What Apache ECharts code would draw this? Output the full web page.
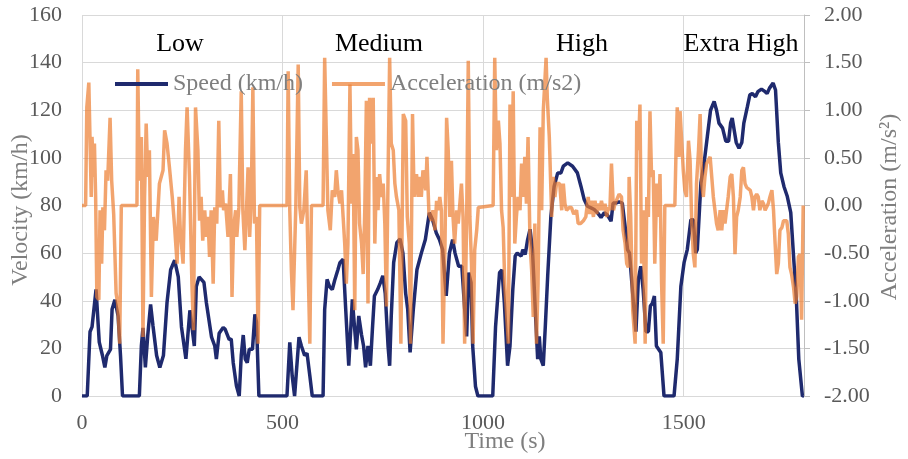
<!DOCTYPE html>
<html>
<head>
<meta charset="utf-8">
<script src="https://cdn.jsdelivr.net/npm/echarts@6/dist/echarts.min.js"></script>
<style>
  html, body { margin: 0; padding: 0; background: #fff; }
  #chart { width: 908px; height: 459px; }
</style>
</head>
<body>
<div id="chart"></div>
<script>
// WLTC speed trace: [time (s), speed (km/h)]
var speedPoints = [
  [0,0],[13,0],[20,27],[25,29],[35,44.8],[43,22.6],[51,17],[57,12],[62,17],[71,19.6],[75,36.4],[82,40.4],[90,33.6],[96,17],[101,0],
  [143,0],[148,21],[152,28.6],[158,12],[164,25.6],[171,38.5],[177,29.4],[186,17],[194,12],[203,17],[212,39.3],[221,53],[231,57],[240,50],
  [248,29],[259,15.6],[269,36],[280,21],[285,46],[292,50],[304,47.7],[310,39.3],[323,24.7],[331,21],[335,15.5],[342,26.4],[352,28.8],
  [357,28],[367,23.7],[372,24],[377,14],[385,4.3],[392,0],[397,17],[402,25.6],[407,15.5],[412,14],[417,19.6],[425,19.6],[431,34.3],
  [435,31],[441,0],[511,0],[518,22.5],[524,8.5],[530,0],[534,0],[541,24.7],[547,21],[555,17],[561,18],[568,8.5],[574,0],[601,0],
  [605,36.4],[611,49],[617,46],[624,44.7],[630,48.6],[638,53],[643,56],[651,57.4],[657,37.8],[665,12.7],[674,40.6],[679,29.8],[684,19.6],
  [690,33.6],[697,25.6],[702,21],[707,12],[713,21],[719,12.7],[724,28],[729,42],[737,44.7],[744,47.6],[750,50.5],[756,43],[763,21],
  [767,12.7],[771,33.6],[777,56],[785,64.4],[793,66],[800,60],[807,43],[812,36.4],[818,18.3],[826,36.4],[835,53],[846,60],[856,65.7],
  [866,77],[874,74],[883,68.6],[891,65.7],[899,61.5],[908,42],[916,60],[924,65.7],[930,60],[939,54.5],[947,54.5],[953,39],[959,25],
  [964,51.8],[970,47.6],[974,21],[981,4],[987,0],[1024,0],[1031,29],[1041,51.8],[1047,53],[1053,39],[1061,12.7],[1067,21],[1074,44.7],
  [1080,58.8],[1085,60],[1095,58.8],[1099,61.5],[1105,59.4],[1111,65.7],[1117,70],[1123,61.5],[1130,36.4],[1136,15.5],[1140,25],
  [1144,15.5],[1150,12.7],[1155,29],[1161,50.4],[1169,75.5],[1177,88],[1186,93.7],[1194,93.7],[1200,96.5],[1211,97.9],[1223,96.5],
  [1235,93.7],[1244,88],[1252,82.5],[1260,79.7],[1269,79],[1277,78.3],[1285,77],[1294,75],[1302,77],[1310,76],[1319,73.4],[1324,81],
  [1331,81],[1339,81.5],[1347,81],[1354,71.3],[1360,61.5],[1365,60],[1374,40.6],[1381,27],[1387,49],[1393,54.5],[1399,44.7],[1406,27],
  [1412,27],[1417,37.8],[1422,39],[1427,42],[1432,21],[1443,18.3],[1451,0],[1476,0],[1484,15.5],[1493,46],[1501,56],[1509,61.5],
  [1518,74],[1524,74],[1530,60],[1534,61.5],[1543,89.5],[1551,97.9],[1559,109],[1567,120],[1576,123.7],[1582,120],[1588,114.6],
  [1597,112.5],[1605,107],[1612,107],[1617,114.6],[1621,116.7],[1626,111.6],[1631,106.5],[1638,104],[1645,106.5],[1650,114.6],
  [1659,121.6],[1665,126.5],[1671,127],[1679,125.7],[1685,127.8],[1694,128.9],[1703,127.8],[1708,127],[1714,129.3],[1723,131.4],
  [1729,128.5],[1736,106.5],[1742,93.7],[1750,88],[1758,84],[1767,77],[1775,56],[1781,40.6],[1787,15.5],[1796,0],[1800,0]
];

// acceleration trace: [time (s), acceleration (m/s2)]
var accelPoints = [
  [0,0],[9,0],[12,1.03],[17,1.29],[20,1.27],[23,0.09],[25,0.72],[29,0.30],[31,0.65],[34,0.09],[37,-0.96],[42,-0.99],[45,-0.05],
  [49,-0.61],[52,-0.02],[56,-0.26],[60,0.37],[64,0.26],[70,0.92],[74,0.26],[79,-0.09],[85,-0.92],[89,-1.03],[94,-1.45],[98,0],
  [137,0],[139,1.43],[143,0.26],[148,0.72],[152,-1.38],[156,0.09],[160,0.86],[164,0.30],[168,0.58],[173,-0.96],[178,-0.12],[185,-0.37],
  [193,0.23],[202,0.37],[206,0.79],[212,0.65],[218,0.40],[225,0.09],[231,-0.23],[237,-0.61],[242,0.09],[245,-0.26],[252,-0.61],
  [258,0.58],[262,1.03],[268,0.30],[274,-0.82],[278,-1.31],[283,1.03],[289,0.58],[293,-0.16],[297,0.09],[301,-0.37],[306,-0.05],
  [310,-0.33],[314,-0.12],[318,-0.54],[322,-0.05],[327,-0.82],[331,-0.02],[336,-0.19],[341,0.89],[345,-0.02],[350,0.16],[353,-0.05],
  [358,0.02],[364,-0.33],[370,0.33],[374,-0.96],[378,-0.23],[383,-0.05],[386,-0.33],[391,-0.02],[397,1.20],[401,-0.05],[406,-0.47],
  [410,-0.05],[414,0.40],[418,-0.33],[422,0.09],[426,1.24],[430,-0.19],[435,-0.12],[439,-1.45],[443,0],
  [511,0],[514,1.41],[518,-0.05],[522,-0.68],[526,-1.10],[533,-0.02],[539,1.48],[543,-0.02],[547,-0.19],[553,-0.05],[559,0.37],
  [564,-0.68],[568,-1.45],[572,0],[601,0],[605,1.55],[609,0.75],[613,-0.05],[619,-0.26],[624,0.16],[630,0.09],[634,0.37],[638,0.16],
  [643,0.02],[647,0.16],[651,-0.12],[655,-0.40],[659,-0.82],[663,-0.40],[668,1.27],[672,0.02],[676,0.54],[680,-1.10],[684,0.72],
  [688,0.58],[692,-0.19],[697,-0.40],[701,-0.72],[705,-0.05],[709,1.10],[713,-1.03],[717,1.13],[722,0.65],[726,1.13],[730,-0.40],
  [734,0.30],[738,-0.05],[742,0.33],[747,0.09],[751,0.23],[755,-0.19],[759,-1.06],[763,0.30],[767,1.55],[771,0.65],[776,0.58],
  [780,0.23],[784,0.09],[790,-0.05],[795,-1.45],[801,0.96],[807,0.89],[811,-0.12],[816,-0.40],[819,-1.45],[824,0.96],[828,0.09],
  [834,0.33],[838,0.09],[842,0.30],[846,0.09],[850,0.37],[857,0.16],[860,0.51],[865,-0.09],[871,-0.16],[875,-0.05],[880,-0.26],
  [884,0.05],[888,-0.05],[892,0.09],[896,-0.05],[900,-1.45],[905,-0.40],[909,0.92],[913,0.58],[917,-0.12],[921,0.47],[925,-0.12],
  [929,-0.40],[934,-0.05],[938,-0.19],[942,0.02],[946,0.23],[950,-0.12],[954,-1.45],[959,-0.12],[963,1.52],[967,-0.12],[971,-0.61],
  [975,-1.45],[979,-0.47],[984,-0.26],[988,-0.02],[992,0],[1025,0],[1029,1.55],[1033,0.58],[1038,0.89],[1042,0.65],[1046,-0.05],
  [1050,-0.23],[1054,-0.82],[1058,-1.10],[1063,-1.45],[1067,1.06],[1071,0.09],[1075,1.20],[1079,-0.40],[1083,-0.12],[1087,0.09],
  [1092,-0.05],[1096,0.44],[1100,0.09],[1104,0.51],[1108,0.02],[1112,0.72],[1117,-0.40],[1121,-0.68],[1125,-1.17],[1129,-0.19],
  [1133,-1.45],[1137,-0.82],[1142,0.82],[1146,-0.05],[1150,0.99],[1157,1.55],[1160,1.13],[1165,0.72],[1171,-0.12],[1175,0.30],
  [1179,0.09],[1183,0.23],[1191,0.23],[1196,-0.05],[1200,0.23],[1204,0.02],[1208,-0.05],[1215,-0.02],[1220,-0.02],[1226,-0.09],
  [1233,-0.05],[1237,-0.19],[1243,-0.19],[1250,-0.16],[1256,-0.12],[1262,0.09],[1266,-0.09],[1270,0.05],[1275,-0.12],[1279,0.05],
  [1283,-0.09],[1287,0.02],[1291,-0.05],[1295,0.05],[1300,-0.05],[1304,0.02],[1308,-0.12],[1312,-0.02],[1316,-0.05],[1320,0.44],
  [1325,-0.05],[1329,0.02],[1333,0.02],[1339,0.12],[1345,0.09],[1349,-0.26],[1354,-0.40],[1358,-0.61],[1362,-0.65],[1364,0.30],
  [1368,-0.12],[1373,-1.10],[1379,-1.45],[1383,0.89],[1387,0.58],[1391,1.06],[1395,-0.61],[1399,-0.05],[1404,-1.45],[1408,0.09],
  [1412,-0.12],[1416,0.99],[1420,0.30],[1424,0.37],[1428,-0.61],[1433,0.23],[1437,-0.12],[1441,0.33],[1445,-0.82],[1449,-1.45],
  [1453,0],[1478,0],[1481,0.58],[1484,1.03],[1488,0.51],[1491,0.99],[1495,0.99],[1499,0.37],[1503,0.16],[1507,0.09],[1512,0.68],
  [1516,0.47],[1520,-0.16],[1524,-0.51],[1528,-0.65],[1532,0.23],[1537,0.58],[1541,0.96],[1545,0.23],[1549,0.09],[1553,0.30],
  [1557,0.44],[1566,0.51],[1570,0.30],[1574,0.09],[1578,-0.05],[1582,-0.19],[1586,-0.26],[1591,-0.05],[1595,-0.26],[1599,-0.05],
  [1603,-0.19],[1607,-0.05],[1611,0.09],[1616,0.30],[1620,0.33],[1624,0.09],[1628,-0.51],[1632,-0.12],[1636,-0.05],[1641,0.09],
  [1645,0.37],[1649,0.40],[1653,0.23],[1657,0.19],[1666,0.16],[1670,0.09],[1674,-0.05],[1678,0.09],[1682,0.12],[1686,0.09],
  [1690,-0.05],[1695,0.05],[1699,0.02],[1703,-0.05],[1707,-0.05],[1711,0.02],[1715,0.09],[1720,0.16],[1724,-0.05],[1728,-0.40],
  [1732,-0.72],[1736,-0.61],[1740,-0.26],[1745,-0.23],[1749,-0.16],[1757,-0.16],[1761,-0.30],[1765,-0.65],[1769,-0.72],[1774,-0.86],
  [1778,-1.03],[1782,-0.96],[1786,-0.54],[1790,-0.51],[1794,-1.20],[1798,0]
];

var phaseNames = ['Low', 'Medium', 'High', 'Extra High'];
var phaseLabelX = [180, 379, 582, 741];

var serif = '"Liberation Serif", "Times New Roman", serif';

var chart = echarts.init(document.getElementById('chart'), null, { renderer: 'canvas' });

var graphics = phaseNames.map(function (name, i) {
  return {
    type: 'text', x: phaseLabelX[i], y: 44, z: 10,
    style: { text: name, font: '26px ' + serif, fill: '#000', align: 'center', verticalAlign: 'middle' }
  };
});
graphics.push({
  type: 'text', x: 21, y: 210, rotation: Math.PI / 2,
  style: { text: 'Velocity (km/h)', font: '24px ' + serif, fill: '#7f7f7f', align: 'center', verticalAlign: 'middle' }
});
graphics.push({
  type: 'text', x: 890, y: 207, rotation: Math.PI / 2,
  style: { text: 'Acceleration (m/s\u00b2)', font: '24px ' + serif, fill: '#7f7f7f', align: 'center', verticalAlign: 'middle' }
});
graphics.push({
  type: 'text', x: 505, y: 442,
  style: { text: 'Time (s)', font: '24px ' + serif, fill: '#7f7f7f', align: 'center', verticalAlign: 'middle' }
});

var option = {
  animation: false,
  backgroundColor: '#fff',
  textStyle: { fontFamily: serif },
  grid: { left: 82, right: 104, top: 15, bottom: 63 },
  legend: {
    left: 115, top: 72, padding: 0,
    itemWidth: 53, itemHeight: 4, itemGap: 29,
    textStyle: { fontFamily: serif, fontSize: 24, color: '#7f7f7f' },
    data: [
      { name: 'Speed (km/h)', icon: 'rect' },
      { name: 'Acceleration (m/s2)', icon: 'rect' }
    ]
  },
  xAxis: {
    type: 'value', min: 0, max: 1800, interval: 500,
    axisLine: { show: true, lineStyle: { color: '#d9d9d9', width: 1 } },
    axisTick: { show: false },
    axisLabel: {
      color: '#595959', fontSize: 22, fontFamily: serif, margin: 16, showMaxLabel: false,
      formatter: function (v) { return String(v); }
    },
    splitLine: { show: true, lineStyle: { color: '#d9d9d9', width: 1 } }
  },
  yAxis: [{
    type: 'value', min: 0, max: 160, interval: 20,
    axisLine: { show: false },
    axisTick: { show: false },
    axisLabel: { color: '#595959', fontSize: 22, fontFamily: serif, margin: 20 },
    splitLine: { show: true, lineStyle: { color: '#d9d9d9', width: 1 } }
  }, {
    type: 'value', min: -2, max: 2, interval: 0.5, position: 'right',
    axisLine: { show: true, lineStyle: { color: '#bfbfbf', width: 1 } },
    axisTick: { show: true, length: 6, lineStyle: { color: '#bfbfbf' } },
    axisLabel: {
      color: '#595959', fontSize: 22, fontFamily: serif, margin: 20,
      formatter: function (v) { return v.toFixed(2); }
    },
    splitLine: { show: false }
  }],
  series: [{
    name: 'Speed (km/h)',
    type: 'line',
    data: speedPoints,
    showSymbol: false,
    color: '#1f2a6e',
    lineStyle: { width: 3.5, color: '#1f2a6e' },
    z: 2
  }, {
    name: 'Acceleration (m/s2)',
    type: 'line',
    yAxisIndex: 1,
    data: accelPoints,
    showSymbol: false,
    color: 'rgba(237,125,49,0.7)',
    lineStyle: { width: 3.5, color: 'rgba(237,125,49,0.7)' },
    z: 3
  }],
  graphic: graphics
};

chart.setOption(option);
</script>
</body>
</html>
